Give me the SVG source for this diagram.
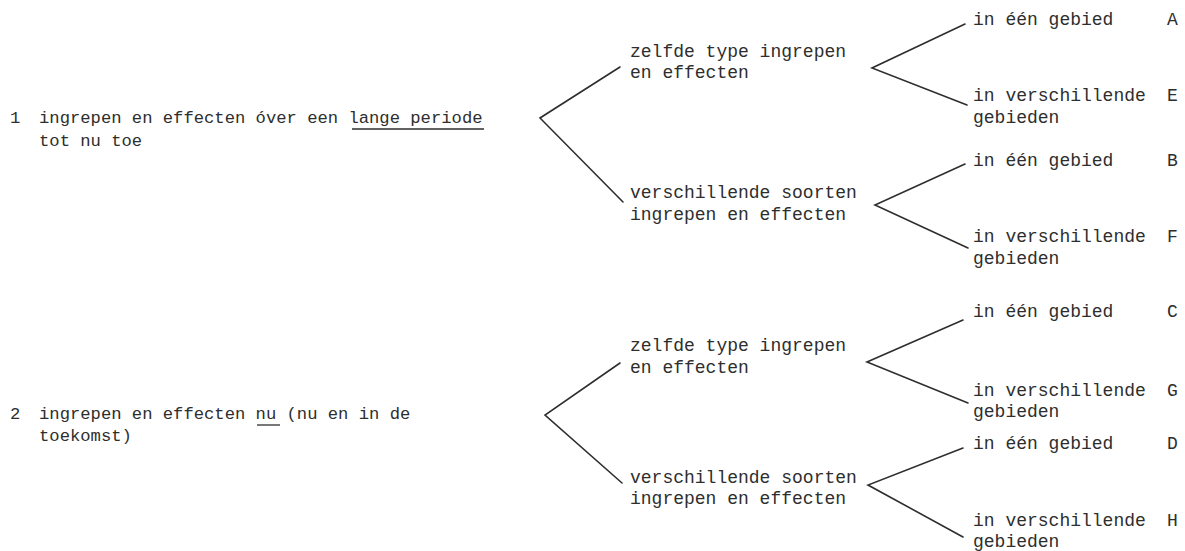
<svg xmlns="http://www.w3.org/2000/svg" width="1185" height="551" viewBox="0 0 1185 551">
<style>
text{font-family:"Liberation Mono","DejaVu Sans Mono",monospace;fill:#2e2e2e}
.l{font-size:17.2px}
.m{font-size:18px}
.c{fill:none;stroke:#2e2e2e;stroke-width:1.6;stroke-linecap:round;stroke-linejoin:miter}
.u{stroke:#2e2e2e;stroke-width:1.3}
</style>
<rect width="1185" height="551" fill="#fff"/>
<g id="connectors">
<polyline class="c" points="620,67 540,118 623,202"/>
<polyline class="c" points="965,24 872,68 967,105"/>
<polyline class="c" points="965,164 875,205 968,248"/>
<polyline class="c" points="620,363 545,415 622,483"/>
<polyline class="c" points="963,320 867,362 968,403"/>
<polyline class="c" points="963,448 868,485 963,537"/>
</g>
<g id="n1">
<text class="l" x="10" y="123">1</text>
<text class="l" x="39" y="123">ingrepen en effecten óver een lange periode</text>
<text class="l" x="39" y="146">tot nu toe</text>
<line class="u" x1="352" y1="129" x2="484" y2="129"/>
</g>
<g id="n2">
<text class="l" x="10" y="419">2</text>
<text class="l" x="39" y="419">ingrepen en effecten nu (nu en in de</text>
<text class="l" x="39" y="441">toekomst)</text>
<line class="u" x1="257" y1="425" x2="280" y2="425"/>
</g>
<g id="n1a">
<text class="m" x="630" y="57">zelfde type ingrepen</text>
<text class="m" x="630" y="78">en effecten</text>
</g>
<g id="n1b">
<text class="m" x="630" y="198">verschillende soorten</text>
<text class="m" x="630" y="220">ingrepen en effecten</text>
</g>
<g id="n2a">
<text class="m" x="630" y="351">zelfde type ingrepen</text>
<text class="m" x="630" y="373">en effecten</text>
</g>
<g id="n2b">
<text class="m" x="630" y="483">verschillende soorten</text>
<text class="m" x="630" y="504">ingrepen en effecten</text>
</g>
<g id="A">
<text class="m" x="973" y="25">in één gebied</text>
<text class="m" x="1167" y="25">A</text>
</g>
<g id="E">
<text class="m" x="973" y="101">in verschillende</text>
<text class="m" x="973" y="123">gebieden</text>
<text class="m" x="1167" y="101">E</text>
</g>
<g id="B">
<text class="m" x="973" y="166">in één gebied</text>
<text class="m" x="1167" y="166">B</text>
</g>
<g id="F">
<text class="m" x="973" y="242">in verschillende</text>
<text class="m" x="973" y="264">gebieden</text>
<text class="m" x="1167" y="242">F</text>
</g>
<g id="C">
<text class="m" x="973" y="317">in één gebied</text>
<text class="m" x="1167" y="317">C</text>
</g>
<g id="G">
<text class="m" x="973" y="396">in verschillende</text>
<text class="m" x="973" y="417">gebieden</text>
<text class="m" x="1167" y="396">G</text>
</g>
<g id="D">
<text class="m" x="973" y="449">in één gebied</text>
<text class="m" x="1167" y="449">D</text>
</g>
<g id="H">
<text class="m" x="973" y="526">in verschillende</text>
<text class="m" x="973" y="547">gebieden</text>
<text class="m" x="1167" y="526">H</text>
</g>
</svg>
